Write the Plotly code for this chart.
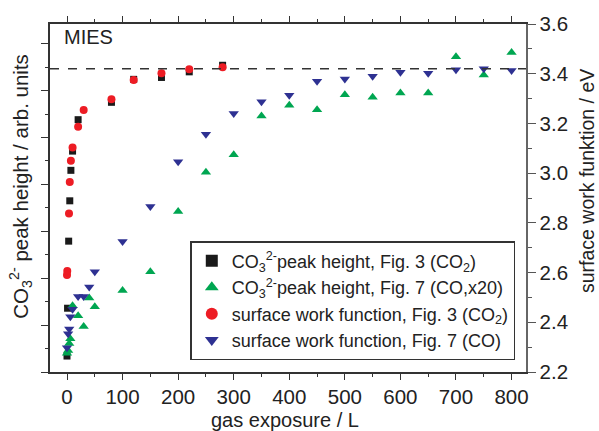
import plotly.graph_objects as go

# CO3 2- peak height, Fig. 3 (CO2)  -> left axis (arb. units)
sq_x = [0, 1, 3, 5, 7, 10, 20, 80, 120, 170, 220, 280]
sq_y = [0.34, 1.36, 2.79, 3.65, 4.30, 4.71, 5.38, 5.75, 6.24, 6.28, 6.40, 6.54]

# CO3 2- peak height, Fig. 7 (CO, x20) -> left axis
gr_x = [0, 2, 4, 6, 10, 20, 30, 40, 50, 100, 150, 200, 250, 300, 350, 400,
        450, 500, 550, 600, 650, 700, 750, 800]
gr_y = [0.40, 0.46, 0.61, 0.71, 1.41, 1.20, 0.97, 1.58, 1.39, 1.74, 2.14, 3.42,
        4.26, 4.63, 5.46, 5.69, 5.59, 5.91, 5.86, 5.95, 5.95, 6.72, 6.33, 6.81]

# surface work function, Fig. 3 (CO2) -> right axis (eV)
rd_x = [0, 0.5, 3.6, 5, 7, 10, 20, 30, 80, 120, 170, 220, 280]
rd_y = [2.590, 2.606, 2.838, 2.964, 3.050, 3.103, 3.187, 3.254, 3.297, 3.375,
        3.402, 3.418, 3.426]

# surface work function, Fig. 7 (CO) -> right axis
bl_x = [0, 2, 4, 6, 10, 20, 30, 40, 50, 100, 150, 200, 250, 300, 350, 400,
        450, 500, 550, 600, 650, 700, 750, 800]
bl_y = [2.298, 2.354, 2.373, 2.422, 2.452, 2.504, 2.504, 2.542, 2.603, 2.725,
        2.866, 3.046, 3.156, 3.240, 3.287, 3.313, 3.370, 3.379, 3.390, 3.406,
        3.402, 3.416, 3.420, 3.413]

sat_level = 3.42

FONT = "Liberation Sans, Arial, Helvetica, sans-serif"
TXT = "#222222"

fig = go.Figure()
fig.add_trace(go.Scatter(
    x=sq_x, y=sq_y, mode="markers", yaxis="y",
    name="CO<sub>3</sub><sup>2-</sup>peak height, Fig. 3 (CO<sub>2</sub>)",
    marker=dict(symbol="square", size=7, color="#1a1a1a")))
fig.add_trace(go.Scatter(
    x=gr_x, y=gr_y, mode="markers", yaxis="y",
    name="CO<sub>3</sub><sup>2-</sup>peak height, Fig. 7 (CO,x20)",
    marker=dict(symbol="triangle-up", size=9, color="#00a651")))
fig.add_trace(go.Scatter(
    x=rd_x, y=rd_y, mode="markers", yaxis="y2",
    name="surface work function, Fig. 3 (CO<sub>2</sub>)",
    marker=dict(symbol="circle", size=8, color="#ed1c24")))
fig.add_trace(go.Scatter(
    x=bl_x, y=bl_y, mode="markers", yaxis="y2",
    name="surface work function, Fig. 7 (CO)",
    marker=dict(symbol="triangle-down", size=9, color="#2e3192")))

fig.add_shape(type="line", xref="paper", x0=0, x1=1, yref="y2",
              y0=sat_level, y1=sat_level,
              line=dict(color="#333333", width=1.3, dash="dash"))

fig.update_layout(
    width=599, height=431,
    margin=dict(l=50, r=73, t=19, b=59),
    paper_bgcolor="white", plot_bgcolor="white",
    font=dict(family=FONT, size=20, color=TXT),
    showlegend=True,
    legend=dict(x=0.9775, y=0.034, xanchor="right", yanchor="bottom",
                bgcolor="white", bordercolor="#333333", borderwidth=1.5,
                font=dict(size=18, color=TXT), tracegroupgap=0,
                itemsizing="constant"),
    xaxis=dict(range=[-30.6, 826], tick0=0, dtick=100, ticks="outside",
               ticklen=6, tickwidth=1.2, tickcolor="#333333",
               minor=dict(dtick=50, ticklen=3.5, ticks="outside", tickcolor="#333333"),
               showline=True, linecolor="#333333", linewidth=1.5, mirror="ticks",
               showgrid=False, zeroline=False,
               tickfont=dict(size=20.5, color=TXT)),
    yaxis=dict(range=[0, 7.42], tick0=0, dtick=1, ticks="outside", ticklen=7,
               tickwidth=1.2, tickcolor="#333333",
               minor=dict(dtick=0.5, ticklen=3.5, ticks="outside", tickcolor="#333333"),
               showticklabels=False, showline=True, linecolor="#333333",
               linewidth=1.5, showgrid=False, zeroline=False),
    yaxis2=dict(range=[2.2, 3.6], overlaying="y", side="right", anchor="x",
                tick0=2.2, dtick=0.2, tickformat=".1f", ticks="outside",
                ticklen=7.5, tickwidth=1.2, tickcolor="#555555",
                minor=dict(dtick=0.1, ticklen=4, ticks="outside", tickcolor="#555555"),
                showline=True, linecolor="#666666", linewidth=2,
                showgrid=False, zeroline=False,
                tickfont=dict(size=20.5, color=TXT)),
)

fig.add_annotation(text="MIES", xref="paper", yref="paper",
                   x=(62 - 50) / 475.7, y=(372 - 32.5) / 353,
                   xanchor="left", yanchor="middle", showarrow=False,
                   font=dict(size=20, color=TXT))
fig.add_annotation(text="gas exposure / L", xref="paper", yref="paper",
                   x=0.494, y=-0.138, xanchor="center", yanchor="middle",
                   showarrow=False, font=dict(size=20, color=TXT))
fig.add_annotation(text="CO<sub>3</sub><sup>2-</sup> peak height / arb. units",
                   xref="paper", yref="paper", x=-0.061, y=0.535,
                   xanchor="center", yanchor="middle", textangle=-90,
                   showarrow=False, font=dict(size=20.5, color=TXT))
fig.add_annotation(text="surface work funktion / eV",
                   xref="paper", yref="paper", x=1.127, y=0.55,
                   xanchor="center", yanchor="middle", textangle=-90,
                   showarrow=False, font=dict(size=19.5, color=TXT))

fig.write_html("out.html")
